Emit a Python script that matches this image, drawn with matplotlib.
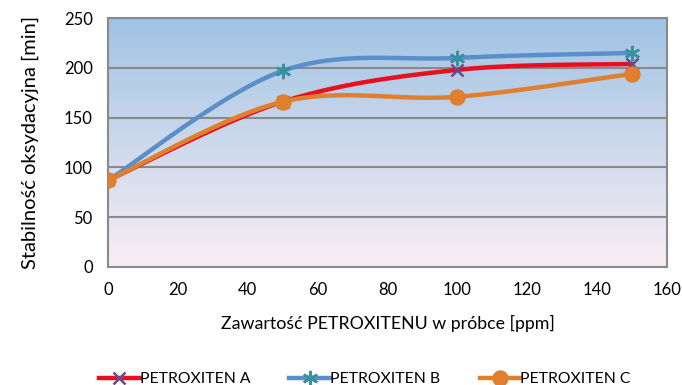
import matplotlib
matplotlib.use("Agg")
import matplotlib.pyplot as plt
import numpy as np

plt.rcParams['font.family'] = ['Lato', 'DejaVu Sans']

ppm = [0, 50, 100, 150]
petro_a = [87, 166, 198, 204]
petro_b = [87, 197, 210, 215]
petro_c = [87, 166, 171, 194]
labels = ['PETROXITEN A', 'PETROXITEN B', 'PETROXITEN C']


def smooth(x, y, n=40):
    # Excel-style smoothed line: cardinal spline through the points
    x = np.asarray(x, float)
    y = np.asarray(y, float)
    px = np.concatenate([[x[0]], x, [x[-1]]])
    py = np.concatenate([[y[0]], y, [y[-1]]])
    xs, ys = [], []
    t = np.linspace(0, 1, n)
    for i in range(1, len(px) - 2):
        p0 = np.array([px[i - 1], py[i - 1]])
        p1 = np.array([px[i], py[i]])
        p2 = np.array([px[i + 1], py[i + 1]])
        p3 = np.array([px[i + 2], py[i + 2]])
        c1 = p1 + (p2 - p0) / 6
        c2 = p2 - (p3 - p1) / 6
        pts = ((1 - t) ** 3)[:, None] * p1 + (3 * (1 - t) ** 2 * t)[:, None] * c1 \
            + (3 * (1 - t) * t ** 2)[:, None] * c2 + (t ** 3)[:, None] * p2
        xs.extend(pts[:, 0])
        ys.extend(pts[:, 1])
    return xs, ys


fig = plt.figure(figsize=(6.82, 3.85), dpi=100)
ax = fig.add_axes([0.1584, 0.3065, 0.8196, 0.6465])

# gradient background
grad = np.linspace(0, 1, 256)[:, None]
top = np.array([160, 195, 228]) / 255
bot = np.array([249, 238, 244]) / 255
img = top[None, None, :] * (1 - grad[:, :, None]) + bot[None, None, :] * grad[:, :, None]
ax.imshow(img, extent=[0, 160, 0, 250], aspect='auto', zorder=0)

ax.set_xlim(0, 160)
ax.set_ylim(0, 250)
ax.set_xticks(range(0, 161, 20))
ax.set_yticks(range(0, 251, 50))
ax.yaxis.grid(True, color='#8a8a8a', linewidth=1.5, zorder=1)
ax.set_axisbelow(True)
for s in ax.spines.values():
    s.set_color('#8a8a8a')
    s.set_linewidth(1.5)
ax.tick_params(length=0, labelsize=12)
ax.tick_params(axis='x', pad=11)
ax.tick_params(axis='y', pad=11)

styles = [
    (petro_a, '#e8101e', 'x', '#6a4a8f', 8),
    (petro_b, '#5b8fc9', (6, 2, 0), '#3a8fa0', 11),
    (petro_c, '#e07f2e', 'o', '#e07f2e', 10),
]
handles = []
for (vals, col, mk, mcol, ms), lab in zip(styles, labels):
    sx, sy = smooth(ppm, vals)
    ax.plot(sx, sy, color=col, linewidth=3.2, zorder=3, solid_capstyle='round')
    ax.plot(ppm, vals, linestyle='none', marker=mk, markersize=ms,
            color=mcol, markeredgewidth=1.8, zorder=4)
    h, = ax.plot([], [], color=col, linewidth=3.2, marker=mk, markersize=ms,
                 markerfacecolor=mcol, markeredgecolor=mcol, markeredgewidth=1.8)
    handles.append(h)

ax.set_xlabel('Zawartość PETROXITENU w próbce [ppm]', fontsize=12.8, labelpad=12)
ax.set_ylabel('Stabilność oksydacyjna [min]', fontsize=14.5, labelpad=18)

fig.legend(handles, labels, loc='center', bbox_to_anchor=(0.535, 0.015),
           ncol=3, frameon=False, fontsize=11.3, handlelength=2.6,
           handletextpad=0.0, columnspacing=2.5)

fig.savefig('out.png', dpi=100)
